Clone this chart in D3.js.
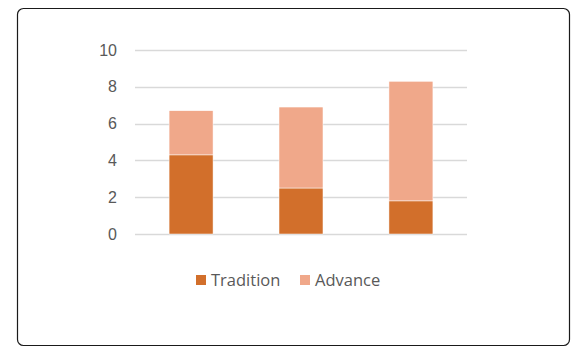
<!DOCTYPE html>
<html>
<head>
<meta charset="utf-8">
<script src="https://cdn.jsdelivr.net/npm/d3@7"></script>
<style>
  body { margin: 0; background: #fff; }
  svg { display: block; font-family: "Open Sans", sans-serif; }
  .axis text { fill: #595959; font-size: 16px; }
  .legend text { fill: #595959; font-size: 16.5px; }
</style>
</head>
<body>
<svg width="581" height="355"></svg>
<script>
// chart data
var categories = ['A', 'B', 'C'];
var seriesNames = ['Tradition', 'Advance'];
var tradition = [4.3, 2.5, 1.8];
var advance = [2.4, 4.4, 6.5];
var yTicks = [0, 2, 4, 6, 8, 10];
var colors = ['#D26F2B', '#F0A88A'];

var svg = d3.select('svg');

// outer frame
svg.append('rect')
    .attr('x', 17.5).attr('y', 8.5)
    .attr('width', 552).attr('height', 337)
    .attr('rx', 6)
    .attr('fill', '#fff')
    .attr('stroke', '#1a1a1a')
    .attr('stroke-width', 1.2);

var margin = {top: 50, left: 135, right: 467, bottom: 234};

var x = d3.scaleBand().range([margin.left, margin.right])
    .paddingInner(0.6).paddingOuter(0.31)
    .domain(categories);

var y = d3.scaleLinear().range([margin.bottom, margin.top])
    .domain([0, 10]);

// gridlines
svg.append('g')
    .selectAll('line')
    .data(yTicks)
    .enter().append('line')
    .attr('x1', margin.left).attr('x2', margin.right)
    .attr('y1', function(d) { return Math.round(y(d)) + 0.5; })
    .attr('y2', function(d) { return Math.round(y(d)) + 0.5; })
    .attr('stroke', '#d9d9d9')
    .attr('stroke-width', 1.3);

// y axis labels
var yAxis = svg.append('g')
    .attr('class', 'axis')
    .attr('transform', 'translate(' + (margin.left - 18) + ',0)')
    .call(d3.axisLeft(y).tickValues(yTicks).tickSize(0).tickPadding(0));
yAxis.select('.domain').remove();

// stacked bars
var rows = categories.map(function(c, i) {
    return {cat: c, Tradition: tradition[i], Advance: advance[i]};
});
var stacked = d3.stack().keys(seriesNames)(rows);

svg.append('g')
    .selectAll('g')
    .data(stacked)
    .enter().append('g')
    .attr('fill', function(d, i) { return colors[i]; })
    .selectAll('rect')
    .data(function(d) { return d; })
    .enter().append('rect')
    .attr('x', function(d) { return x(d.data.cat); })
    .attr('y', function(d) { return y(d[1]); })
    .attr('width', x.bandwidth())
    .attr('height', function(d) { return y(d[0]) - y(d[1]); })
    .attr('stroke', '#fff')
    .attr('stroke-width', 0.5);

// legend
var legend = svg.append('g').attr('class', 'legend');
var legendX = [196, 300];
seriesNames.forEach(function(name, i) {
    legend.append('rect')
        .attr('x', legendX[i]).attr('y', 275)
        .attr('width', 10).attr('height', 10)
        .attr('fill', colors[i]);
    legend.append('text')
        .attr('x', legendX[i] + 15).attr('y', 280)
        .attr('dy', '0.35em')
        .text(name);
});
</script>
</body>
</html>
